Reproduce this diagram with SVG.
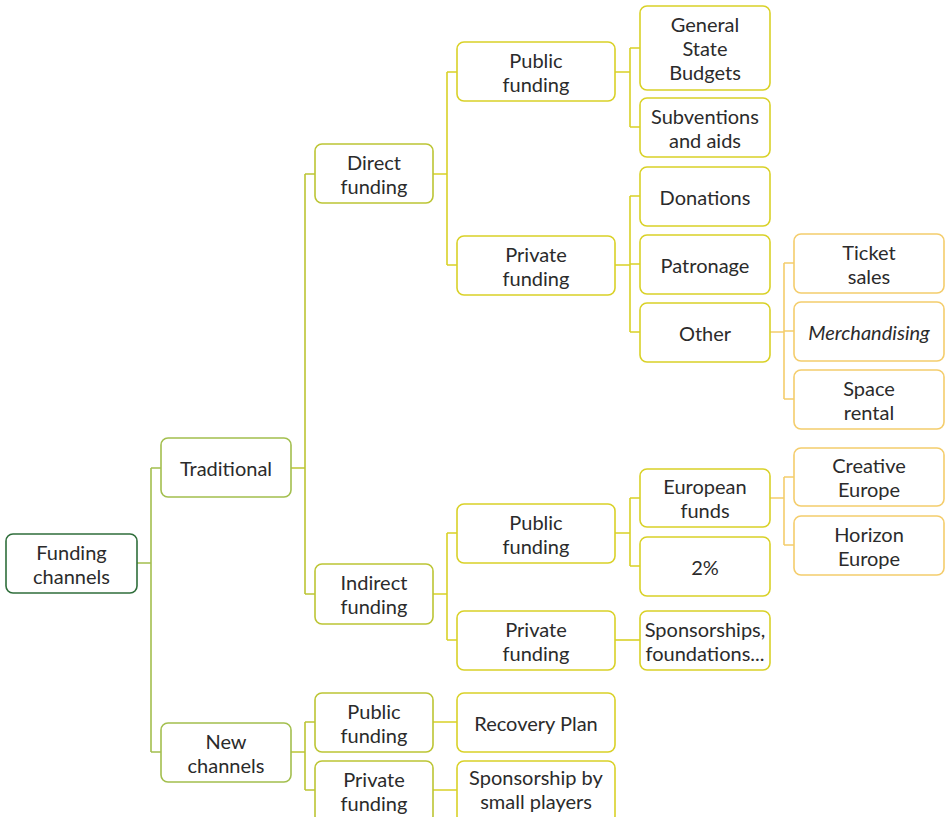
<svg xmlns="http://www.w3.org/2000/svg" width="946" height="817" viewBox="0 0 946 817">
  <style>
    .box { fill: #ffffff; stroke-width: 1.6; }
    .t { font-family: Lato, "Noto Sans", "Liberation Sans", sans-serif; font-size: 20px; fill: #2b2b2b; text-anchor: middle; dominant-baseline: central; }
    .it { font-style: italic; }
    .c0 { stroke: #2f6e3b; }
    .c1 { stroke: #a3bf4e; }
    .c2 { stroke: #bcc534; }
    .c3 { stroke: #d9d127; }
    .c4 { stroke: #f4cd6c; }
    .ln { fill: none; stroke-width: 1.6; }
  </style>
  <rect width="946" height="817" fill="#ffffff"/>

  <!-- connectors -->
  <g id="connectors">
    <path class="ln c1" d="M137 563 H151 M151 468 V752 M151 468 H161 M151 752 H161"/>
    <path class="ln c2" d="M291 468 H305 M305 174 V594 M305 174 H315 M305 594 H315"/>
    <path class="ln c2" d="M291 752 H305 M305 722 V790 M305 722 H315 M305 790 H315"/>
    <path class="ln c3" d="M433 174 H447 M447 72 V265 M447 72 H457 M447 265 H457"/>
    <path class="ln c3" d="M433 594 H447 M447 533 V640 M447 533 H457 M447 640 H457"/>
    <path class="ln c3" d="M433 722 H457 M433 790 H457"/>
    <path class="ln c3" d="M615 72 H630 M630 48 V127 M630 48 H640 M630 127 H640"/>
    <path class="ln c3" d="M615 265 H630 M630 196 V332 M630 196 H640 M630 264 H640 M630 332 H640"/>
    <path class="ln c3" d="M615 533 H630 M630 498 V566 M630 498 H640 M630 566 H640"/>
    <path class="ln c3" d="M615 640 H640"/>
    <path class="ln c4" d="M770 332 H784 M784 263 V399 M784 263 H794 M784 331 H794 M784 399 H794"/>
    <path class="ln c4" d="M770 498 H784 M784 477 V545 M784 477 H794 M784 545 H794"/>
  </g>

  <g id="root">
    <rect class="box c0" x="6" y="534" width="131" height="59" rx="7"/>
    <text class="t" x="71.5" y="551.5">Funding</text>
    <text class="t" x="71.5" y="575.5">channels</text>
  </g>

  <g id="traditional">
    <rect class="box c1" x="161" y="438" width="130" height="59" rx="7"/>
    <text class="t" x="226" y="467.5">Traditional</text>
  </g>
  <g id="new-channels">
    <rect class="box c1" x="161" y="723" width="130" height="59" rx="7"/>
    <text class="t" x="226" y="740.5">New</text>
    <text class="t" x="226" y="764.5">channels</text>
  </g>

  <g id="direct-funding">
    <rect class="box c2" x="315" y="144" width="118" height="59" rx="7"/>
    <text class="t" x="374" y="161.5">Direct</text>
    <text class="t" x="374" y="185.5">funding</text>
  </g>
  <g id="indirect-funding">
    <rect class="box c2" x="315" y="564" width="118" height="60" rx="7"/>
    <text class="t" x="374" y="582">Indirect</text>
    <text class="t" x="374" y="606">funding</text>
  </g>
  <g id="new-public">
    <rect class="box c2" x="315" y="693" width="118" height="59" rx="7"/>
    <text class="t" x="374" y="710.5">Public</text>
    <text class="t" x="374" y="734.5">funding</text>
  </g>
  <g id="new-private">
    <rect class="box c2" x="315" y="761" width="118" height="62" rx="7"/>
    <text class="t" x="374" y="779">Private</text>
    <text class="t" x="374" y="803">funding</text>
  </g>

  <g id="direct-public">
    <rect class="box c3" x="457" y="42" width="158" height="59" rx="7"/>
    <text class="t" x="536" y="59.5">Public</text>
    <text class="t" x="536" y="83.5">funding</text>
  </g>
  <g id="direct-private">
    <rect class="box c3" x="457" y="236" width="158" height="59" rx="7"/>
    <text class="t" x="536" y="253.5">Private</text>
    <text class="t" x="536" y="277.5">funding</text>
  </g>
  <g id="indirect-public">
    <rect class="box c3" x="457" y="504" width="158" height="59" rx="7"/>
    <text class="t" x="536" y="521.5">Public</text>
    <text class="t" x="536" y="545.5">funding</text>
  </g>
  <g id="indirect-private">
    <rect class="box c3" x="457" y="611" width="158" height="59" rx="7"/>
    <text class="t" x="536" y="628.5">Private</text>
    <text class="t" x="536" y="652.5">funding</text>
  </g>
  <g id="recovery-plan">
    <rect class="box c3" x="457" y="693" width="158" height="59" rx="7"/>
    <text class="t" x="536" y="722.5">Recovery Plan</text>
  </g>
  <g id="small-players">
    <rect class="box c3" x="457" y="761" width="158" height="62" rx="7"/>
    <text class="t" x="536" y="777">Sponsorship by</text>
    <text class="t" x="536" y="801">small players</text>
  </g>

  <g id="state-budgets">
    <rect class="box c3" x="640" y="6" width="130" height="84" rx="7"/>
    <text class="t" x="705" y="24">General</text>
    <text class="t" x="705" y="48">State</text>
    <text class="t" x="705" y="72">Budgets</text>
  </g>
  <g id="subventions">
    <rect class="box c3" x="640" y="98" width="130" height="59" rx="7"/>
    <text class="t" x="705" y="115.5">Subventions</text>
    <text class="t" x="705" y="139.5">and aids</text>
  </g>
  <g id="donations">
    <rect class="box c3" x="640" y="167" width="130" height="59" rx="7"/>
    <text class="t" x="705" y="196.5">Donations</text>
  </g>
  <g id="patronage">
    <rect class="box c3" x="640" y="235" width="130" height="59" rx="7"/>
    <text class="t" x="705" y="264.5">Patronage</text>
  </g>
  <g id="other">
    <rect class="box c3" x="640" y="303" width="130" height="59" rx="7"/>
    <text class="t" x="705" y="332.5">Other</text>
  </g>
  <g id="european-funds">
    <rect class="box c3" x="640" y="469" width="130" height="58" rx="7"/>
    <text class="t" x="705" y="486">European</text>
    <text class="t" x="705" y="510">funds</text>
  </g>
  <g id="two-percent">
    <rect class="box c3" x="640" y="537" width="130" height="59" rx="7"/>
    <text class="t" x="705" y="566.5">2%</text>
  </g>
  <g id="sponsorships">
    <rect class="box c3" x="640" y="611" width="130" height="59" rx="7"/>
    <text class="t" x="705" y="628.5">Sponsorships,</text>
    <text class="t" x="705" y="652.5">foundations...</text>
  </g>

  <g id="ticket-sales">
    <rect class="box c4" x="794" y="234" width="150" height="59" rx="7"/>
    <text class="t" x="869" y="251.5">Ticket</text>
    <text class="t" x="869" y="275.5">sales</text>
  </g>
  <g id="merchandising">
    <rect class="box c4" x="794" y="302" width="150" height="59" rx="7"/>
    <text class="t it" x="869" y="331.5">Merchandising</text>
  </g>
  <g id="space-rental">
    <rect class="box c4" x="794" y="370" width="150" height="59" rx="7"/>
    <text class="t" x="869" y="387.5">Space</text>
    <text class="t" x="869" y="411.5">rental</text>
  </g>
  <g id="creative-europe">
    <rect class="box c4" x="794" y="448" width="150" height="58" rx="7"/>
    <text class="t" x="869" y="465">Creative</text>
    <text class="t" x="869" y="489">Europe</text>
  </g>
  <g id="horizon-europe">
    <rect class="box c4" x="794" y="516" width="150" height="59" rx="7"/>
    <text class="t" x="869" y="533.5">Horizon</text>
    <text class="t" x="869" y="557.5">Europe</text>
  </g>
</svg>
